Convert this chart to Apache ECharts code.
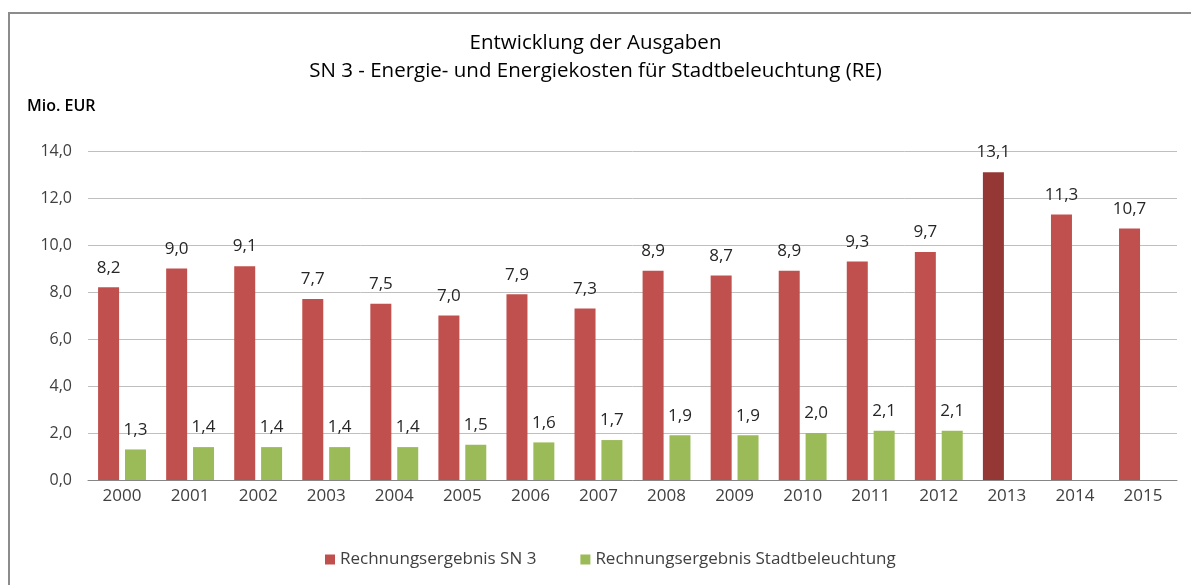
<!DOCTYPE html>
<html>
<head>
<meta charset="utf-8">
<script src="https://cdn.jsdelivr.net/npm/echarts@6/dist/echarts.min.js"></script>
<style>
  html, body { margin: 0; padding: 0; background: #fff; }
  #chart { width: 1191px; height: 585px; }
</style>
</head>
<body>
<div id="chart"></div>
<script>
// Jahre
var years = ['2000','2001','2002','2003','2004','2005','2006','2007','2008','2009','2010','2011','2012','2013','2014','2015'];
// Rechnungsergebnis SN 3 (Mio. EUR)
var sn3 = [8.2, 9.0, 9.1, 7.7, 7.5, 7.0, 7.9, 7.3, 8.9, 8.7, 8.9, 9.3, 9.7, 13.1, 11.3, 10.7];
// Rechnungsergebnis Stadtbeleuchtung (Mio. EUR), ab 2013 keine Werte
var beleuchtung = [1.3, 1.4, 1.4, 1.4, 1.4, 1.5, 1.6, 1.7, 1.9, 1.9, 2.0, 2.1, 2.1, null, null, null];
var highlightYear = '2013';

var fmt = function (v) { return Number(v).toFixed(1).replace('.', ','); };
var font = '"Open Sans", sans-serif';

var myChart = echarts.init(document.getElementById('chart'));

var options = {
  animation: false,
  textStyle: { fontFamily: font },
  graphic: [
    {
      type: 'rect',
      shape: { x: 9, y: 13, width: 1300, height: 700 },
      style: { fill: 'none', stroke: '#8c8c8c', lineWidth: 2 },
      silent: true
    },
    {
      type: 'text',
      left: 27, top: 98,
      style: { text: 'Mio. EUR', font: '600 16px ' + font, fill: '#000' }
    }
  ],
  title: {
    text: 'Entwicklung der Ausgaben\nSN 3 - Energie- und Energiekosten für Stadtbeleuchtung (RE)',
    left: 'center',
    top: 24,
    textStyle: { fontFamily: font, fontSize: 20.5, fontWeight: 'normal', color: '#000', lineHeight: 28 }
  },
  legend: {
    top: 546,
    left: 320,
    itemWidth: 10,
    itemHeight: 10,
    itemGap: 44,
    icon: 'rect',
    textStyle: { fontFamily: font, fontSize: 17, color: '#404040' },
    data: ['Rechnungsergebnis SN 3', 'Rechnungsergebnis Stadtbeleuchtung']
  },
  grid: { left: 88, right: 14, top: 151, bottom: 105 },
  xAxis: {
    type: 'category',
    data: years,
    axisTick: { show: false },
    axisLine: { lineStyle: { color: '#868686', width: 1 } },
    axisLabel: { fontFamily: font, fontSize: 17, color: '#404040', margin: 8 }
  },
  yAxis: {
    type: 'value',
    min: 0,
    max: 14,
    interval: 2,
    axisLine: { show: false },
    axisTick: { show: false },
    splitLine: { lineStyle: { color: '#bfbfbf' } },
    axisLabel: { fontFamily: font, fontSize: 16, color: '#404040', margin: 16, formatter: fmt }
  },
  series: [
    {
      name: 'Rechnungsergebnis SN 3',
      type: 'bar',
      barWidth: 21,
      barGap: '28%',
      itemStyle: { color: '#C0504D' },
      data: sn3.map(function (v, i) {
        return years[i] === highlightYear ? { value: v, itemStyle: { color: '#953735' } } : v;
      }),
      label: {
        show: true, position: 'top', distance: 11,
        fontFamily: font, fontSize: 17, color: '#262626',
        formatter: function (p) { return fmt(p.value); }
      }
    },
    {
      name: 'Rechnungsergebnis Stadtbeleuchtung',
      type: 'bar',
      barWidth: 21,
      itemStyle: { color: '#9BBB59' },
      data: beleuchtung,
      label: {
        show: true, position: 'top', distance: 11,
        fontFamily: font, fontSize: 17, color: '#262626',
        formatter: function (p) { return p.value == null ? '' : fmt(p.value); }
      }
    }
  ]
};

myChart.setOption(options);
</script>
</body>
</html>
